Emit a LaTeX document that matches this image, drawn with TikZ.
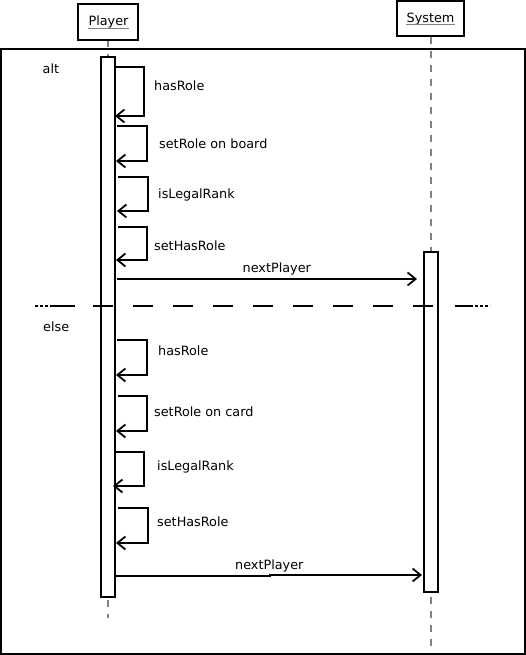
\documentclass[tikz,border=0pt]{standalone}
\usepackage{fontspec}
\setmainfont{DejaVu Sans}
\usetikzlibrary{arrows.meta}
\begin{document}
\begin{tikzpicture}[x=1pt,y=-1pt,
  box/.style={draw, line width=1.8pt, fill=white, inner sep=0pt},
  actbar/.style={draw, line width=1.8pt, fill=white, minimum width=14pt, inner sep=0pt},
  lbl/.style={anchor=base west, inner sep=0pt, font=\fontsize{12.8}{14}\selectfont},
  ttl/.style={anchor=base, inner sep=0pt, font=\fontsize{12.8}{14}\selectfont},
  life/.style={draw=gray, line width=1.5pt, dash pattern=on 7pt off 7pt},
  msg/.style={line width=1.8pt, -{Straight Barb[length=8pt,width=13pt]}}]
\useasboundingbox (0,0) rectangle (526,655);
% frame
\draw[line width=1.8pt] (1,49) rectangle (525,654);
% lifelines
\coordinate (ptop) at (108,40);
\coordinate (pend) at (108,618);
\coordinate (stop) at (431,37);
\coordinate (send) at (431,647);
\draw[life] (ptop) -- (pend);
\draw[life] (stop) -- (send);
% heads
\node[box, minimum width=60pt, minimum height=36pt] (player) at (108,22) {};
\node[ttl] (ptext) at (108.5,26) {Player};
\draw[gray, line width=1pt] ([yshift=-2.5pt]ptext.base west) -- ([yshift=-2.5pt]ptext.base east);
\node[box, minimum width=67pt, minimum height=35pt] (system) at (430.5,18.5) {};
\node[ttl] (stext) at (430.5,22.5) {System};
\draw[gray, line width=1pt] ([yshift=-2.5pt]stext.base west) -- ([yshift=-2.5pt]stext.base east);
% activation bars
\node[actbar, minimum height=540pt] (pbar) at (108,327) {};
\node[actbar, minimum height=340pt] (sbar) at (431,422) {};
% operands
\node[lbl] (alt) at (42.5,74) {alt};
\node[lbl] (else) at (43,331) {else};
% separator
\draw[line width=1.5pt, dash pattern=on 3pt off 2pt] (35,306) -- (53,306);
\draw[line width=1.5pt] (53,306) -- (75,306);
\draw[line width=1.5pt, dash pattern=on 20pt off 20pt] (93,306) -- (434,306);
\draw[line width=1.5pt] (455,306) -- (470,306);
\draw[line width=1.5pt, dash pattern=on 3pt off 2pt] (470,306) -- (490,306);
% alt messages
\draw[msg] (115,67) -| (144,116) -- (115,116);
\node[lbl] (m1) at (154,90.5) {hasRole};
\draw[msg] (117,126) -| (147,161) -- (116,161);
\node[lbl] (m2) at (159,148.5) {setRole on board};
\draw[msg] (118,177) -| (148,211) -- (117,211);
\node[lbl] (m3) at (158,198) {isLegalRank};
\draw[msg] (118,227) -| (147,260) -- (116,260);
\node[lbl] (m4) at (154,250) {setHasRole};
\draw[msg] (117,279) -- (417,279);
\node[lbl] (m5) at (242.5,272.5) {nextPlayer};
% else messages
\draw[msg] (117,340) -| (147,375) -- (116,375);
\node[lbl] (m6) at (158,355) {hasRole};
\draw[msg] (118,396) -| (147,431) -- (116,431);
\node[lbl] (m7) at (154,416) {setRole on card};
\draw[msg] (115,452) -| (144,486) -- (113,486);
\node[lbl] (m8) at (157,470.5) {isLegalRank};
\draw[msg] (118,508) -| (148,543) -- (116,543);
\node[lbl] (m9) at (157,526.5) {setHasRole};
\draw[msg] (115,576) -- (270,576) -- (270,575) -- (422,575);
\node[lbl] (m10) at (235,569.5) {nextPlayer};
\end{tikzpicture}
\end{document}
